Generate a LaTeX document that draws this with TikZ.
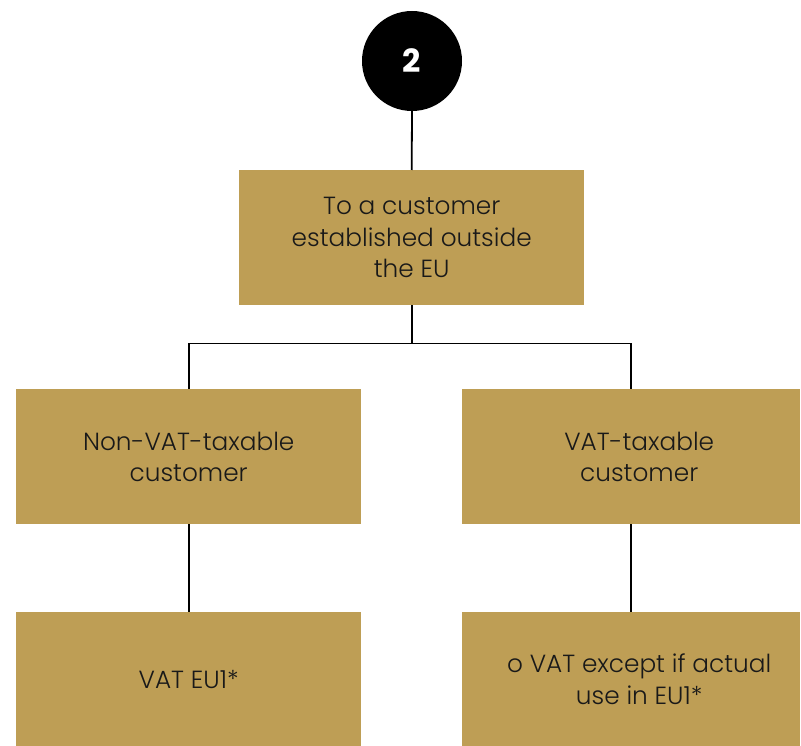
\documentclass[tikz,border=0pt]{standalone}
\usepackage{fontspec}
\setmainfont{Poppins}[UprightFont=* Light, BoldFont=* Bold]
\definecolor{gold}{HTML}{BE9E55}
\begin{document}
\begin{tikzpicture}[x=1pt,y=-1pt,
  box/.style={fill=gold, inner sep=0pt, anchor=north west, align=center,
    font=\fontsize{24.8}{31.5}\selectfont, text=black!90},
  label text/.style={inner sep=0pt, align=center,
    font=\fontsize{24.8}{31.5}\selectfont, text=black!90},
  link/.style={draw=black, line width=1.8pt}]
\useasboundingbox (0,0) rectangle (801,746);
% numbered badge
\node[circle, fill=black, minimum size=100pt, inner sep=0pt,
  font=\fontsize{32}{32}\selectfont\bfseries, text=white] (badge) at (412,61) {2};
% boxes
\node[box, minimum width=345pt, minimum height=135pt] (top) at (239,170)
  {To a customer\\established outside\\the EU};
\node[box, minimum width=345pt, minimum height=135pt] (left) at (16,389)
  {Non-VAT-taxable\\customer};
\node[box, minimum width=338pt, minimum height=135pt] (right) at (462,389) {};
\node[box, minimum width=345pt, minimum height=134pt] (bl) at (16,612)
  {VAT EU1*};
\node[box, minimum width=338pt, minimum height=134pt] (br) at (462,612) {};
% texts of the right-hand column, set slightly right of the box centres
\node[label text] (righttext) at ([xshift=8pt]right.center) {VAT-taxable\\customer};
\node[label text] (brtext) at ([xshift=8pt]br.center) {o VAT except if actual\\use in EU1*};
% connectors
\coordinate (split) at ([yshift=-38pt]top.south);
\draw[link] (badge.south) -- (top.north);
\draw[link] (top.south) -- (split);
\draw[link] (split) -| (left.north);
\draw[link] (split) -| (right.north);
\draw[link] (left.south) -- (bl.north);
\draw[link] (right.south) -- (br.north);
\end{tikzpicture}
\end{document}
